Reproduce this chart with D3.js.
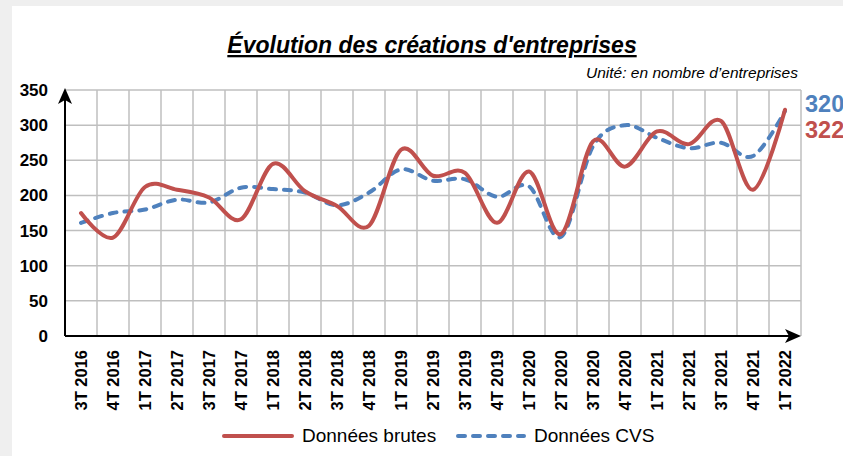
<!DOCTYPE html>
<html lang="fr">
<head>
  <meta charset="UTF-8" />
  <title>Évolution des créations d'entreprises</title>
  <style>
    html, body {
      margin: 0;
      padding: 0;
      background: #efefef;
      font-family: "Liberation Sans", Arial, sans-serif;
    }
    svg { display: block; }
  </style>
</head>
<body>
<svg id="chart" width="843" height="456"></svg>

<script src="https://d3js.org/d3.v7.min.js"></script>
<script>
  // Data
  const periods = [
    "3T 2016", "4T 2016",
    "1T 2017", "2T 2017", "3T 2017", "4T 2017",
    "1T 2018", "2T 2018", "3T 2018", "4T 2018",
    "1T 2019", "2T 2019", "3T 2019", "4T 2019",
    "1T 2020", "2T 2020", "3T 2020", "4T 2020",
    "1T 2021", "2T 2021", "3T 2021", "4T 2021",
    "1T 2022"
  ];
  const brutes = [175, 140, 212, 208, 197, 166, 245, 206, 185, 157, 265, 228,
                  232, 161, 234, 145, 277, 241, 291, 273, 306, 208, 322];
  const cvs = [161, 175, 180, 194, 190, 211, 209, 204, 186, 204, 237, 221,
               223, 198, 213, 141, 270, 300, 282, 267, 275, 256, 320];
  const yTicks = [0, 50, 100, 150, 200, 250, 300, 350];

  const red = "#c0504d";
  const blue = "#4f81bd";
  const grid = "#bfbfbf";

  const svg = d3.select("#chart");

  // white panel
  svg.append("rect")
    .attr("x", 12).attr("y", 6)
    .attr("width", 843 - 12).attr("height", 456 - 6)
    .attr("fill", "#fff");

  const plot = { left: 65, right: 801, top: 90, bottom: 336 };

  const x = d3.scaleBand()
    .domain(periods)
    .range([plot.left, plot.right]);

  const y = d3.scaleLinear()
    .domain([0, 350])
    .range([plot.bottom, plot.top]);

  const cx = d => x(d) + x.bandwidth() / 2;

  // title
  svg.append("text")
    .attr("x", 432).attr("y", 53)
    .attr("text-anchor", "middle")
    .attr("font-size", 23)
    .attr("font-weight", "bold")
    .attr("font-style", "italic")
    .attr("text-decoration", "underline")
    .text("Évolution des créations d'entreprises");

  svg.append("text")
    .attr("x", 798).attr("y", 78)
    .attr("text-anchor", "end")
    .attr("font-size", 15.5)
    .attr("font-style", "italic")
    .text("Unité: en nombre d\u2019entreprises");

  // grid
  svg.append("g")
    .selectAll("line")
    .data(yTicks.slice(1))
    .join("line")
    .attr("x1", plot.left).attr("x2", plot.right)
    .attr("y1", d => y(d)).attr("y2", d => y(d))
    .attr("stroke", grid).attr("stroke-width", 1.5);

  svg.append("g")
    .selectAll("line")
    .data(periods)
    .join("line")
    .attr("x1", d => x(d) + x.bandwidth()).attr("x2", d => x(d) + x.bandwidth())
    .attr("y1", plot.top).attr("y2", plot.bottom)
    .attr("stroke", grid).attr("stroke-width", 1.5);

  // y labels
  svg.append("g")
    .selectAll("text")
    .data(yTicks)
    .join("text")
    .attr("x", 48)
    .attr("y", d => y(d) + 6)
    .attr("text-anchor", "end")
    .attr("font-size", 17)
    .attr("font-weight", "bold")
    .text(d => d);

  // x labels
  svg.append("g")
    .selectAll("text")
    .data(periods)
    .join("text")
    .attr("transform", d => `translate(${cx(d) + 6},350) rotate(-90)`)
    .attr("text-anchor", "end")
    .attr("font-size", 16.5)
    .attr("font-weight", "bold")
    .text(d => d);

  // axes with arrows
  svg.append("line")
    .attr("x1", plot.left).attr("x2", plot.right - 6)
    .attr("y1", plot.bottom).attr("y2", plot.bottom)
    .attr("stroke", "#000").attr("stroke-width", 2);
  svg.append("path")
    .attr("d", `M${plot.right},${plot.bottom} l-16,-7 l4,7 l-4,7 Z`)
    .attr("fill", "#000");

  svg.append("line")
    .attr("x1", plot.left).attr("x2", plot.left)
    .attr("y1", plot.bottom).attr("y2", plot.top + 4)
    .attr("stroke", "#000").attr("stroke-width", 2);
  svg.append("path")
    .attr("d", `M${plot.left},${plot.top - 2} l7,16 l-7,-4 l-7,4 Z`)
    .attr("fill", "#000");

  // series
  const line = values => d3.line()
    .x((d, i) => cx(periods[i]))
    .y(d => y(d))
    .curve(d3.curveCardinal.tension(0))(values);

  svg.append("path")
    .attr("d", line(cvs))
    .attr("fill", "none")
    .attr("stroke", blue)
    .attr("stroke-width", 4)
    .attr("stroke-linecap", "round")
    .attr("stroke-dasharray", "7,8");

  svg.append("path")
    .attr("d", line(brutes))
    .attr("fill", "none")
    .attr("stroke", red)
    .attr("stroke-width", 4)
    .attr("stroke-linecap", "round");

  // end labels
  svg.append("text")
    .attr("x", 805).attr("y", 112)
    .attr("font-size", 23.5).attr("font-weight", "bold")
    .attr("fill", blue)
    .text(cvs[cvs.length - 1]);
  svg.append("text")
    .attr("x", 805).attr("y", 138)
    .attr("font-size", 23.5).attr("font-weight", "bold")
    .attr("fill", red)
    .text(brutes[brutes.length - 1]);

  // legend
  const legend = svg.append("g");
  legend.append("line")
    .attr("x1", 224).attr("x2", 292).attr("y1", 436).attr("y2", 436)
    .attr("stroke", red).attr("stroke-width", 4).attr("stroke-linecap", "round");
  legend.append("text")
    .attr("x", 302).attr("y", 442)
    .attr("font-size", 19)
    .text("Données brutes");
  legend.append("line")
    .attr("x1", 458).attr("x2", 524).attr("y1", 436).attr("y2", 436)
    .attr("stroke", blue).attr("stroke-width", 4).attr("stroke-linecap", "round")
    .attr("stroke-dasharray", "7,8");
  legend.append("text")
    .attr("x", 534).attr("y", 442)
    .attr("font-size", 19)
    .text("Données CVS");
</script>
</body>
</html>
